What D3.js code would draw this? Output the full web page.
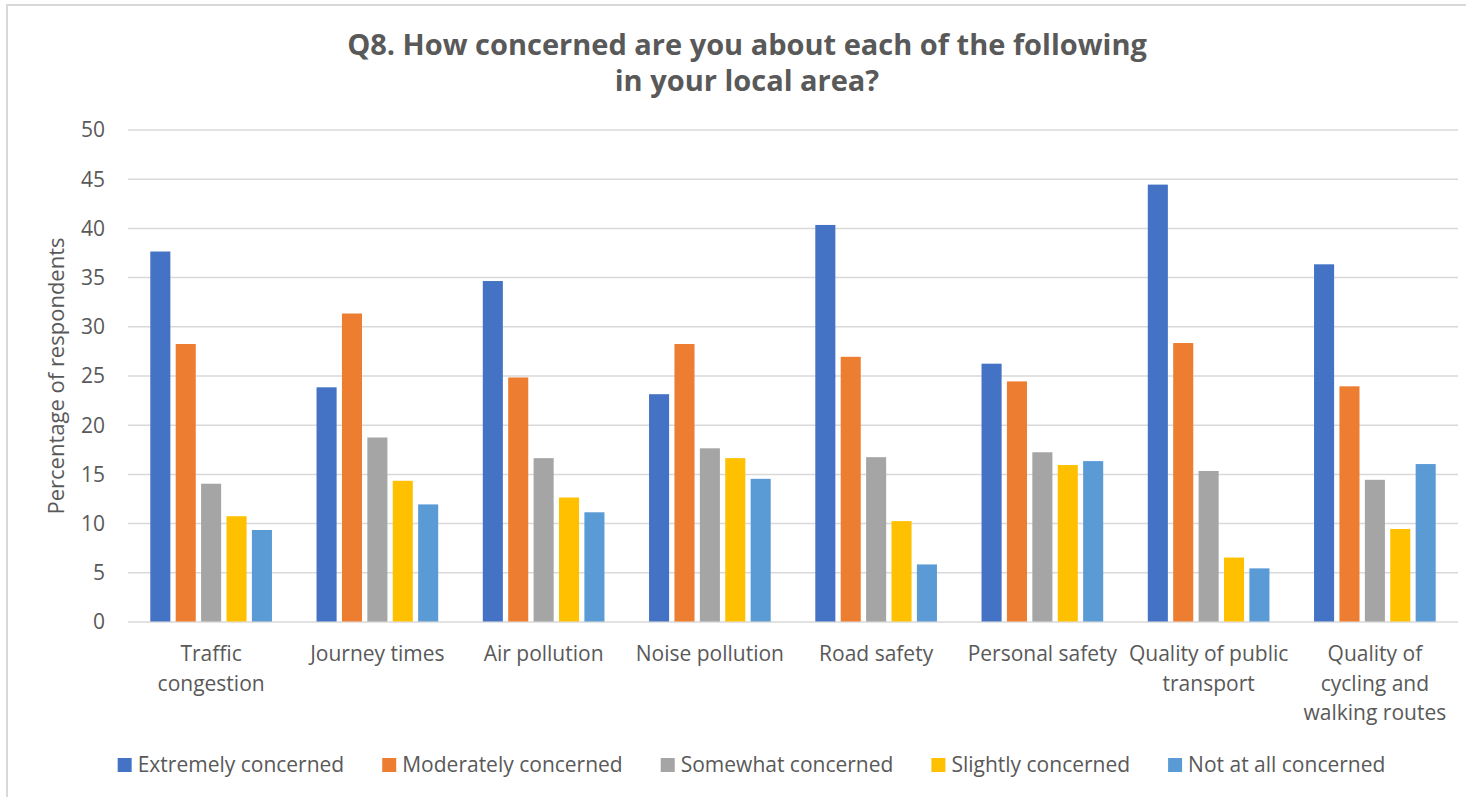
<!DOCTYPE html>
<html><head><meta charset="utf-8">
<script src="https://cdn.jsdelivr.net/npm/d3@7"></script>
<style>
html,body{margin:0;padding:0;background:#fff;}
svg{display:block;}
text{font-family:"Open Sans",sans-serif;fill:#595959;}
</style></head>
<body>
<svg id="chart" width="1466" height="797"></svg>
<script>
const titleLines = ["Q8. How concerned are you about each of the following", "in your local area?"];
const categories = [
  ["Traffic","congestion"],
  ["Journey times"],
  ["Air pollution"],
  ["Noise pollution"],
  ["Road safety"],
  ["Personal safety"],
  ["Quality of public","transport"],
  ["Quality of","cycling and","walking routes"]
];
const seriesNames = ["Extremely concerned","Moderately concerned","Somewhat concerned","Slightly concerned","Not at all concerned"];
const seriesColors = ["#4472C4","#ED7D31","#A5A5A5","#FFC000","#5B9BD5"];
const extremely  = [37.6, 23.8, 34.6, 23.1, 40.3, 26.2, 44.4, 36.3];
const moderately = [28.2, 31.3, 24.8, 28.2, 26.9, 24.4, 28.3, 23.9];
const somewhat   = [14.0, 18.7, 16.6, 17.6, 16.7, 17.2, 15.3, 14.4];
const slightly   = [10.7, 14.3, 12.6, 16.6, 10.2, 15.9, 6.5, 9.4];
const notAtAll   = [9.3, 11.9, 11.1, 14.5, 5.8, 16.3, 5.4, 16.0];
const yTicks = [0,5,10,15,20,25,30,35,40,45,50];
const yLabel = "Percentage of respondents";

const seriesValues = [extremely, moderately, somewhat, slightly, notAtAll];
const catKeys = categories.map(c => c.join(" "));

const svg = d3.select("#chart");
const pLeft = 128, pRight = 1458, pTop = 129.5, pBottom = 621.5;

// outer border (top & left visible)
svg.append("line").attr("x1",7).attr("x2",1466).attr("y1",5).attr("y2",5).attr("stroke","#d9d9d9").attr("stroke-width",2);
svg.append("line").attr("x1",7).attr("x2",7).attr("y1",4).attr("y2",797).attr("stroke","#d9d9d9").attr("stroke-width",2);

// title (two separate lines)
titleLines.forEach((t,i) => svg.append("text").attr("text-anchor","middle")
  .attr("x",747).attr("y",55 + i*36)
  .style("font-size","29px").style("font-weight","700").style("fill","#595959")
  .text(t));

const y = d3.scaleLinear().domain([0,50]).range([pBottom, pTop]);
const x0 = d3.scaleBand().domain(catKeys).range([pLeft, pRight]).padding(0);
const groupW = 127;
const x1 = d3.scaleBand().domain(seriesNames)
  .range([(x0.bandwidth()-groupW)/2, (x0.bandwidth()+groupW)/2])
  .paddingInner(0.21).paddingOuter(0.105);

// gridlines
const yAxis = d3.axisLeft(y).tickValues(yTicks).tickSize(-(pRight-pLeft)).tickPadding(23).tickFormat(d3.format("d"));
const gy = svg.append("g").attr("transform",`translate(${pLeft},0)`).call(yAxis);
gy.select(".domain").remove();
gy.selectAll(".tick line").attr("stroke","#d9d9d9").attr("stroke-width",1.5);
gy.selectAll(".tick text").style("font-size","21px").style("fill","#595959").style("font-family","Open Sans").attr("dy","0.35em");

// bars
const groups = svg.append("g").selectAll("g").data(catKeys).join("g")
  .attr("transform", d => `translate(${x0(d)},0)`);
groups.selectAll("rect")
  .data((d,ci) => seriesNames.map((s,si) => ({s, si, v: seriesValues[si][ci]})))
  .join("rect")
  .attr("x", d => x1(d.s))
  .attr("width", x1.bandwidth())
  .attr("y", d => y(d.v))
  .attr("height", d => y(0) - y(d.v))
  .attr("fill", d => seriesColors[d.si]);

// category labels
categories.forEach((lines, ci) => {
  const cx = x0(catKeys[ci]) + x0.bandwidth()/2;
  const t = svg.append("text").attr("text-anchor","middle").style("font-size","21px");
  lines.forEach((l,li) => t.append("tspan").attr("x",cx).attr("y",661 + li*29.5).text(l));
});

// y axis title
svg.append("text").attr("text-anchor","middle")
  .attr("transform","translate(64,376) rotate(-90)")
  .style("font-size","22px").text(yLabel);

// legend
const lg = svg.append("g");
const items = seriesNames.map((name,i) => {
  const g = lg.append("g");
  g.append("rect").attr("width",14).attr("height",14).attr("y",-14).attr("fill",seriesColors[i]);
  const t = g.append("text").attr("x",20).attr("y",0).style("font-size","21px").text(name);
  return {g, w: 20 + t.node().getComputedTextLength()};
});
const gap = 38;
const total = d3.sum(items, d => d.w) + gap*(items.length-1);
let lx = 751.5 - total/2;
items.forEach(it => { it.g.attr("transform",`translate(${lx},772)`); lx += it.w + gap; });
</script>
</body></html>
